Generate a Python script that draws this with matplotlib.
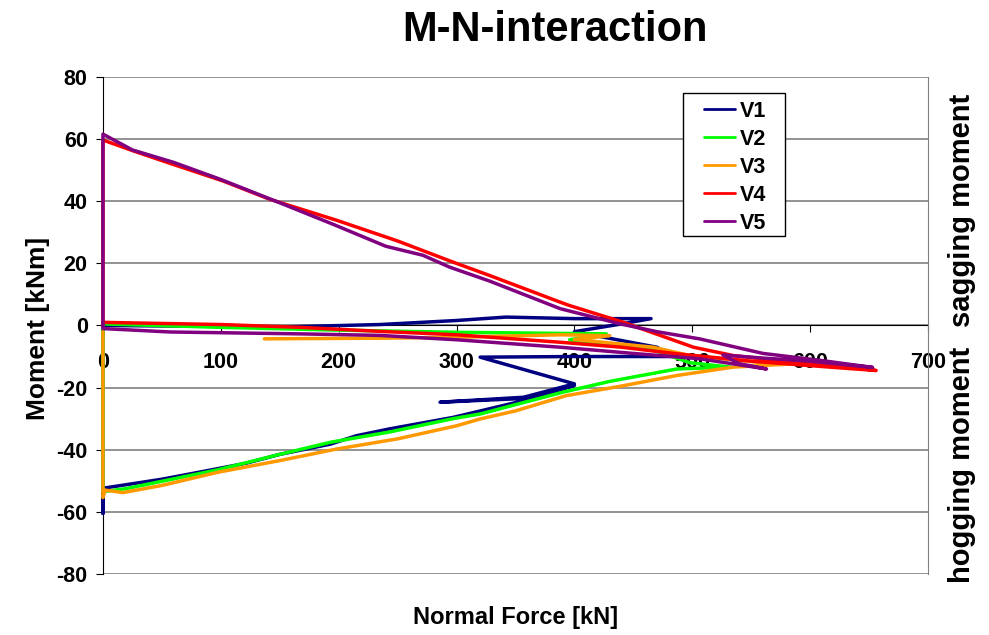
import matplotlib
matplotlib.use("Agg")
import matplotlib.pyplot as plt
from matplotlib.patches import Rectangle

plt.rcParams['font.family'] = ['Liberation Sans', 'DejaVu Sans']
plt.rcParams['font.weight'] = 'bold'
plt.rcParams['axes.unicode_minus'] = False

# normal force N [kN] and moment M [kNm]
v1_n = [0, 100, 150, 235, 300, 342, 400, 465, 440, 400, 470, 484, 400, 320, 400, 357, 286,
        357, 400, 357, 297, 243, 215, 193, 150, 122, 96, 50, 0, 0, 0, 0]
v1_m = [0, -0.3, -0.5, 0.3, 1.6, 2.7, 2.2, 2.2, 0.5, -2, -7, -10, -10, -10.2, -18.8, -23.1, -24.7,
        -23.5, -19.3, -24.2, -29.6, -33.3, -35.5, -38.2, -41.5, -44.3, -46.2, -49.5, -52.4, -60.5, -50, 0]

v2_n = [0, 0, 100, 200, 300, 427, 396, 464, 498, 532, 487, 430, 390, 320, 297, 243, 193,
        150, 97, 20, 0, 0]
v2_m = [0, 0.5, -0.6, -1.5, -2.2, -2.7, -4.6, -7.5, -12, -13.4, -14, -18, -21.5, -28.5, -30, -34.3, -37.6,
        -41.5, -46.5, -52.5, -53.5, 0]

v3_n = [137, 235, 300, 388, 430, 400, 467, 498, 526, 560, 583, 555, 535, 487, 440, 393, 350,
        320, 300, 250, 198, 150, 97, 50, 17, 2, 0, 0]
v3_m = [-4.3, -4.1, -3.8, -3.0, -3.3, -4.5, -7, -9.7, -10.7, -12, -12.4, -13, -13.4, -16.1, -19.5, -22.6, -27.5,
        -30.1, -32.3, -36.5, -39.8, -43.5, -47.3, -51.5, -53.8, -53, -55.4, -2]

v4_n = [0, 0, 100, 167, 235, 300, 388, 440, 484, 550, 620, 656, 620, 588, 535, 501, 461, 441,
        396, 388, 328, 297, 250, 198, 141.7, 102, 60, 25.7, 0, 0]
v4_m = [0, 1, 0.3, -0.6, -1.9, -3, -5.4, -7, -9, -11.5, -13.5, -14.5, -12.7, -11.8, -9.7, -7, -1.6, 1.1,
        6.4, 7.5, 16.1, 20.4, 27.2, 33.9, 40.6, 46.5, 51.8, 56.2, 59.7, 0]

v5_n = [0, 0, 57, 167, 235, 300, 388, 450, 506, 563, 540, 526, 560, 600, 653, 610, 560, 506,
        470, 439, 388, 328, 294, 271.5, 240, 221, 197, 150, 100, 60, 25, 0, 0]
v5_m = [0, -1, -2.1, -2.7, -3.2, -4.6, -7, -9, -10.7, -14, -12.3, -9.5, -10.5, -11.5, -13.5, -11.3, -9, -4.3,
        -2, 0.5, 5.4, 14.3, 18.8, 22.6, 25.5, 28.5, 32.3, 39.5, 47, 52.5, 56.5, 61.6, 0]

series = [
    ('V1', v1_n, v1_m, '#000080'),
    ('V2', v2_n, v2_m, '#00FF00'),
    ('V3', v3_n, v3_m, '#FF9900'),
    ('V4', v4_n, v4_m, '#FF0000'),
    ('V5', v5_n, v5_m, '#800080'),
]

fig = plt.figure(figsize=(9.89, 6.35), dpi=100)
ax = fig.add_axes([0.1041, 0.0961, 0.8342, 0.7827])

for name, n, m, col in series:
    ax.plot(n, m, color=col, lw=2.5, label=name, clip_on=False, zorder=3,
            solid_joinstyle='round', solid_capstyle='round')

ax.set_xlim(0, 700)
ax.set_ylim(-80, 80)
ax.set_xticks(range(0, 701, 100))
ax.set_yticks(range(-80, 81, 20))
ax.yaxis.grid(True, color='#808080', lw=1.2)
ax.set_axisbelow(True)

ax.spines['bottom'].set_position(('data', 0))
ax.spines['bottom'].set_color('black')
ax.spines['bottom'].set_zorder(2)
ax.spines['left'].set_color('black')
ax.spines['right'].set_color('#808080')
ax.spines['top'].set_visible(False)

ax.tick_params(axis='x', direction='out', length=5, pad=14, labelsize=15.5)
ax.tick_params(axis='y', direction='out', length=5, pad=6, labelsize=15.5)
for lab in ax.get_xticklabels() + ax.get_yticklabels():
    lab.set_fontweight('bold')

fig.text(0.561, 0.953, 'M-N-interaction', fontsize=30, fontweight='bold', ha='center', va='center')
fig.text(0.0384, 0.482, 'Moment [kNm]', fontsize=19, fontweight='bold', rotation=90,
         ha='center', va='center')
fig.text(0.5217, 0.0268, 'Normal Force [kN]', fontsize=17, fontweight='bold', ha='center', va='center')
fig.text(0.9727, 0.669, 'sagging moment', fontsize=21, fontweight='bold', rotation=90,
         ha='center', va='center')
fig.text(0.9727, 0.268, 'hogging moment', fontsize=21, fontweight='bold', rotation=90,
         ha='center', va='center')

# legend box (Excel style, wider than the entries)
box = Rectangle((683 / 989, 1 - 236 / 635), 102 / 989, 143 / 635, transform=fig.transFigure,
                facecolor='white', edgecolor='black', lw=1, zorder=4, clip_on=False)
ax.add_patch(box)

leg = ax.legend(loc='upper left', bbox_to_anchor=(704 / 989, 1 - 101 / 635), bbox_transform=fig.transFigure,
                borderaxespad=0, frameon=False, handlelength=1.45, handletextpad=0.2,
                labelspacing=0.32, borderpad=0, prop={'weight': 'bold', 'size': 15.5})
leg.set_zorder(5)
for h in leg.get_lines():
    h.set_linewidth(2)

fig.savefig('out.png', dpi=100, facecolor='white')
